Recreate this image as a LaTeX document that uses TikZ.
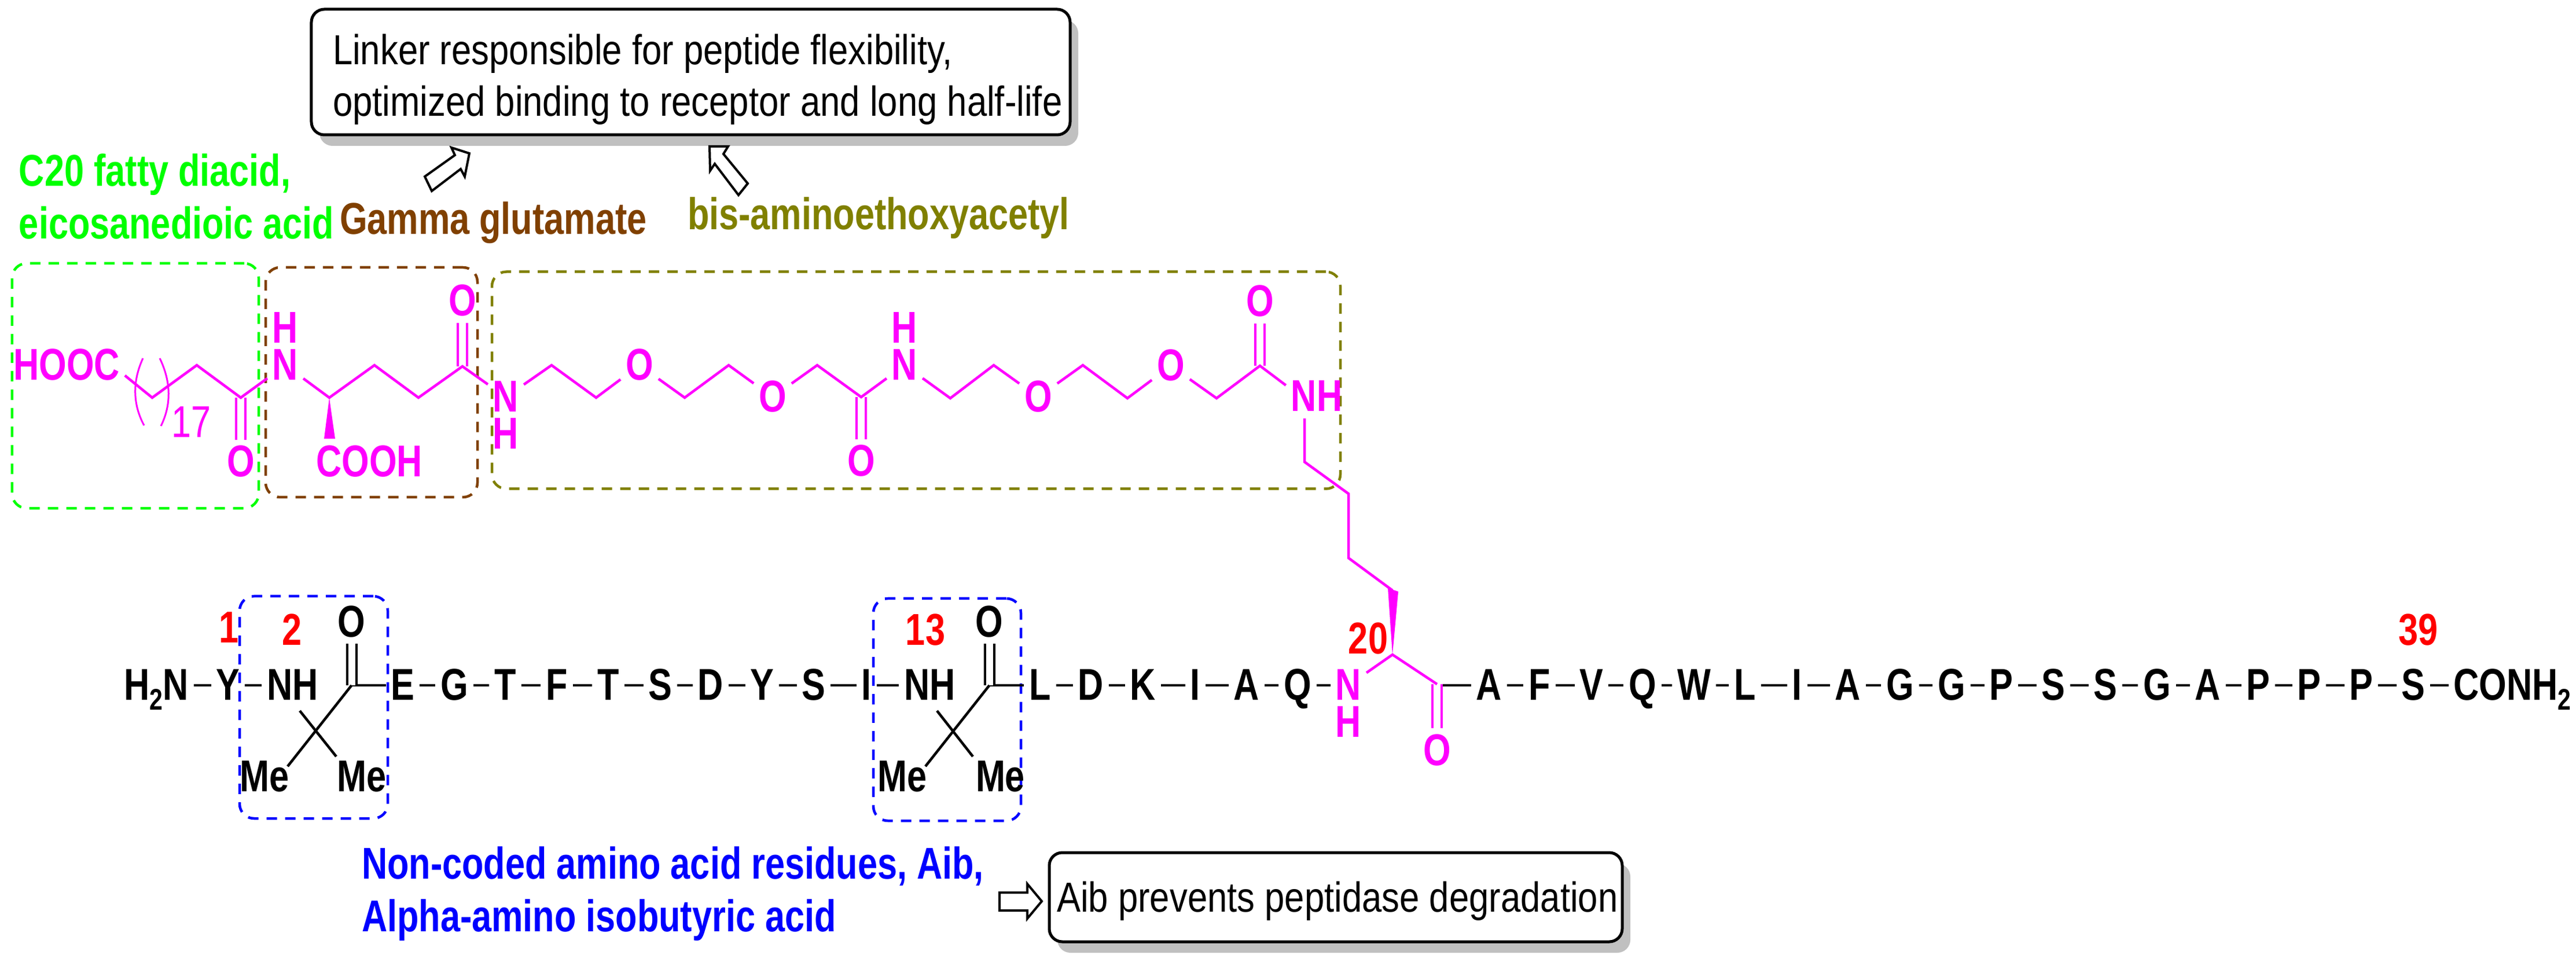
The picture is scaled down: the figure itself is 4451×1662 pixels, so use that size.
\documentclass[tikz,border=0pt]{standalone}
\usepackage{fontspec}
\usetikzlibrary{shadows}
\newfontfamily\chemfont[FakeStretch=0.795]{Liberation Sans}
\newfontfamily\notefont[FakeStretch=0.85]{Liberation Sans}
\newcommand{\subtwo}{\raisebox{-3.4pt}{\fontsize{10.3}{12}\selectfont 2}}
\definecolor{linkmag}{HTML}{FF00FF}
\definecolor{acidgreen}{HTML}{00FF00}
\definecolor{gammabrown}{HTML}{804000}
\definecolor{linkolive}{HTML}{808000}
\definecolor{aibblue}{HTML}{0000FF}
\definecolor{shadegray}{HTML}{C0C0C0}
\tikzset{
  chematom/.style={font=\chemfont\bfseries\fontsize{15.4}{18}\selectfont,inner xsep=1.6pt,inner ysep=1.6pt,text height=11pt,text depth=.6pt},
  linkatom/.style={chematom,text=linkmag},
  seqnum/.style={chematom,text=red},
  chembond/.style={line width=.9pt,line join=miter},
  linkbond/.style={chembond,draw=linkmag},
  dblbond/.style={line width=.8pt,double,double distance=2.4pt},
  groupbox/.style={draw,line width=.9pt,dash pattern=on 3.6pt off 2.8pt,rounded corners=5pt,inner sep=0pt},
  callbox/.style={draw,line width=1pt,rounded corners=4.5pt,fill=white,inner sep=0pt,
    drop shadow={shadow xshift=2.8pt,shadow yshift=-3.8pt,fill=shadegray,opacity=1}},
  blockarrow/.style={draw,line width=.8pt,fill=white,line join=miter},
  grouplabel/.style={font=\chemfont\bfseries\fontsize{15.4}{18.2}\selectfont,inner sep=0pt,align=left},
  calltext/.style={font=\notefont\fontsize{14.5}{17.8}\selectfont,inner sep=0pt,align=left}
}
\begin{document}
\begin{tikzpicture}[x=.2pt,y=-.2pt]
  \useasboundingbox (0,0) rectangle (4451,1662);

  \node[groupbox,draw=acidgreen,minimum width=85.2pt,minimum height=84.6pt] (acidbox) at (234,666.5) {};
  \node[groupbox,draw=gammabrown,minimum width=73.2pt,minimum height=79.4pt] (gammabox) at (642,660.5) {};
  \node[groupbox,draw=linkolive,minimum width=293.2pt,minimum height=75pt] (linkerbox) at (1583,657) {};
  \node[groupbox,draw=aibblue,minimum width=51.2pt,minimum height=76.8pt] (aibboxa) at (542,1222) {};
  \node[groupbox,draw=aibblue,minimum width=51pt,minimum height=76.8pt] (aibboxb) at (1636.5,1226) {};

  \node[callbox,minimum width=262.2pt,minimum height=43.4pt] (linkernote) at (1193.5,124.5) {};
  \node[callbox,minimum width=198pt,minimum height=30.8pt] (aibnote) at (2308,1550) {};
  \node[calltext,anchor=base west] (linkertext) at (574,201)
    {Linker responsible for peptide flexibility,\\optimized binding to receptor and long half-life};
  \node[calltext,anchor=base west] (aibtext) at (1825,1575) {Aib prevents peptidase degradation};

  \draw[blockarrow] (734,305) -- (746,330) -- (796,292) -- (803,305) -- (811,265) -- (780,255) -- (786,268) -- cycle;
  \draw[blockarrow] (1292,317) -- (1276,337) -- (1235,283) -- (1227,295) -- (1226,253) -- (1258,253) -- (1250,266) -- cycle;
  \draw[blockarrow] (1727,1542) -- (1775,1542) -- (1775,1527) -- (1800,1557) -- (1775,1587) -- (1775,1573) -- (1727,1573) -- cycle;

  \node[grouplabel,text=acidgreen,anchor=base west] (acidlabel) at (32,413) {C20 fatty diacid,\\eicosanedioic acid};
  \node[grouplabel,text=gammabrown,anchor=base west] (gammalabel) at (586,405) {Gamma glutamate};
  \node[grouplabel,text=linkolive,anchor=base west] (linkerlabel) at (1187,397) {bis-aminoethoxyacetyl};
  \node[grouplabel,text=aibblue,anchor=base west] (aiblabel) at (624,1609) {Non-coded amino acid residues, Aib,\\Alpha-amino isobutyric acid};

  % fatty acid, glutamate and linker
  \node[linkatom] (hooc) at (115,631) {HOOC};
  \node[linkatom] (oa) at (416,798) {O};
  \node[linkatom] (na) at (493,631) {N};
  \node[linkatom] (ha) at (493,567) {H};
  \node[linkatom] (ob) at (799,520) {O};
  \node[linkatom] (cooh) at (638,798) {COOH};
  \node[linkatom] (nb) at (874,686) {N};
  \node[linkatom] (hb) at (874,750) {H};
  \node[linkatom] (oc) at (1105,631) {O};
  \node[linkatom] (od) at (1335,686) {O};
  \node[linkatom] (oe) at (1488,797) {O};
  \node[linkatom] (nc) at (1563,631) {N};
  \node[linkatom] (hc) at (1563,567) {H};
  \node[linkatom] (of) at (1794,686) {O};
  \node[linkatom] (og) at (2023,632) {O};
  \node[linkatom] (oh) at (2177,521) {O};
  \node[linkatom] (nhd) at (2275,685) {NH};
  \node[chematom,font=\chemfont\fontsize{15.4}{18}\selectfont,text=linkmag] (rept) at (331,730) {17};

  \foreach \name/\xx/\yy in {ca/263/687,cb/340/631,cc/416/687,cd/569/687,ce/647/631,cf/723/687,cg/799/633,
      ch/953/631,ci/1030/687,cj/1183/687,ck/1259/631,cl/1412/631,cm/1488/686,cn/1642/688,co/1717/631,
      cp/1871/631,cq/1948/688,cr/2102/688,cs/2177/632,ct/2254/798,cu/2330/853,cv/2330/964,cw/2406/1020,
      cx/2406/1131,cy/2483/1182,wga/560/758,wgb/579/758,wgc/2398/1016,wgd/2416/1022,aibca/607.5/1184,
      aibcb/1709.5/1184,xaa/518/1228,xab/581/1307,xac/497/1324,xba/1619/1228,xbb/1681/1307,xbc/1599/1324}
    \coordinate (\name) at (\xx,\yy);

  \draw[dblbond,draw=linkmag] (cc) -- (oa);
  \draw[dblbond,draw=linkmag] (cg) -- (ob);
  \draw[dblbond,draw=linkmag] (cm) -- (oe);
  \draw[dblbond,draw=linkmag] (cs) -- (oh);
  \draw[linkbond] (hooc.-10) -- (ca) -- (cb) -- (cc) -- (na);
  \draw[linkbond] (na) -- (cd) -- (ce) -- (cf) -- (cg) -- (nb);
  \draw[linkbond] (nb) -- (ch) -- (ci) -- (oc);
  \draw[linkbond] (oc) -- (cj) -- (ck) -- (od);
  \draw[linkbond] (od) -- (cl) -- (cm) -- (nc);
  \draw[linkbond] (nc) -- (cn) -- (co) -- (of);
  \draw[linkbond] (of) -- (cp) -- (cq) -- (og);
  \draw[linkbond] (og) -- (cr) -- (cs) -- (nhd.160);
  \draw[linkbond] (nhd.south -| ct) -- (ct) -- (cu) -- (cv) -- (cw);
  \fill[linkmag] (cd) -- (wga) -- (wgb) -- cycle;
  \fill[linkmag] (cx) -- (wgc) -- (wgd) -- cycle;
  \draw[line width=.6pt,draw=linkmag] (247,619) .. controls (228,660) and (230,700) .. (249,735);
  \draw[line width=.6pt,draw=linkmag] (276,619) .. controls (296,660) and (296,700) .. (278,736);

  % peptide backbone
  \node[chematom] (hn) at (270,1184) {H\subtwo N};
  \node[chematom] (nhaib) at (505.5,1184) {NH};
  \node[chematom] (nhaic) at (1606.5,1184) {NH};
  \node[chematom] (conh) at (4341,1184) {CONH\subtwo};
  \node[linkatom] (nk) at (2330,1184) {N};
  \node[linkatom] (hk) at (2330,1247) {H};
  \node[linkatom] (ok) at (2483,1296) {O};
  \foreach \name/\xx/\res in {ra/394/Y,rc/696/E,rd/785/G,re/873/T,rf/962/F,rg/1051/T,rh/1141/S,ri/1228/D,rj/1317/Y,
      rk/1406/S,rl/1497/I,rn/1797/L,ro/1885/D,rp/1975/K,rq/2065/I,rr/2154/A,rs/2242/Q,
      rt/2573/A,ru/2660/F,rv/2750/V,rw/2838/Q,rx/2927/W,ry/3015/L,rz/3105/I,sa/3193/A,sb/3283/G,sc/3372/G,
      sd/3458/P,se/3548/S,sf/3638/S,sg/3727/G,sh/3815/A,si/3902/P,sj/3990/P,sk/4080/P,sl/4170/S}
    \node[chematom] (\name) at (\xx,1184) {\res};
  \node[coordinate] (cz) at (2483,1184) {};
  \foreach \aa/\bb in {hn/ra,ra/nhaib,aibca/rc,rc/rd,rd/re,re/rf,rf/rg,rg/rh,rh/ri,ri/rj,rj/rk,rk/rl,rl/nhaic,
      aibcb/rn,rn/ro,ro/rp,rp/rq,rq/rr,rr/rs,rs/nk,cz/rt,rt/ru,ru/rv,rv/rw,rw/rx,rx/ry,ry/rz,rz/sa,sa/sb,sb/sc,
      sc/sd,sd/se,se/sf,sf/sg,sg/sh,sh/si,si/sj,sj/sk,sk/sl,sl/conh}
    \draw[chembond] (\aa) -- (\bb);

  % Aib residues
  \node[chematom] (oaib) at (607.5,1074) {O};
  \node[chematom] (meaa) at (457.5,1341) {Me};
  \node[chematom] (meab) at (625.5,1341) {Me};
  \node[chematom] (oaic) at (1709.5,1074) {O};
  \node[chematom] (meba) at (1559,1341) {Me};
  \node[chematom] (mebb) at (1728.5,1341) {Me};
  \draw[dblbond] (aibca) -- (oaib);
  \draw[dblbond] (aibcb) -- (oaic);
  \draw[chembond] (aibca) -- (xac);
  \draw[chembond] (xaa) -- (xab);
  \draw[chembond] (aibcb) -- (xbc);
  \draw[chembond] (xba) -- (xbb);

  \draw[dblbond,draw=linkmag] (cy) -- (ok);
  \draw[linkbond] (nk) -- (cx) -- (cy);

  \node[seqnum] (numa) at (396,1085) {1};
  \node[seqnum] (numb) at (505,1089) {2};
  \node[seqnum] (numc) at (1599,1089) {13};
  \node[seqnum] (numd) at (2364,1103) {20};
  \node[seqnum] (nume) at (4178,1089) {39};
\end{tikzpicture}
\end{document}
